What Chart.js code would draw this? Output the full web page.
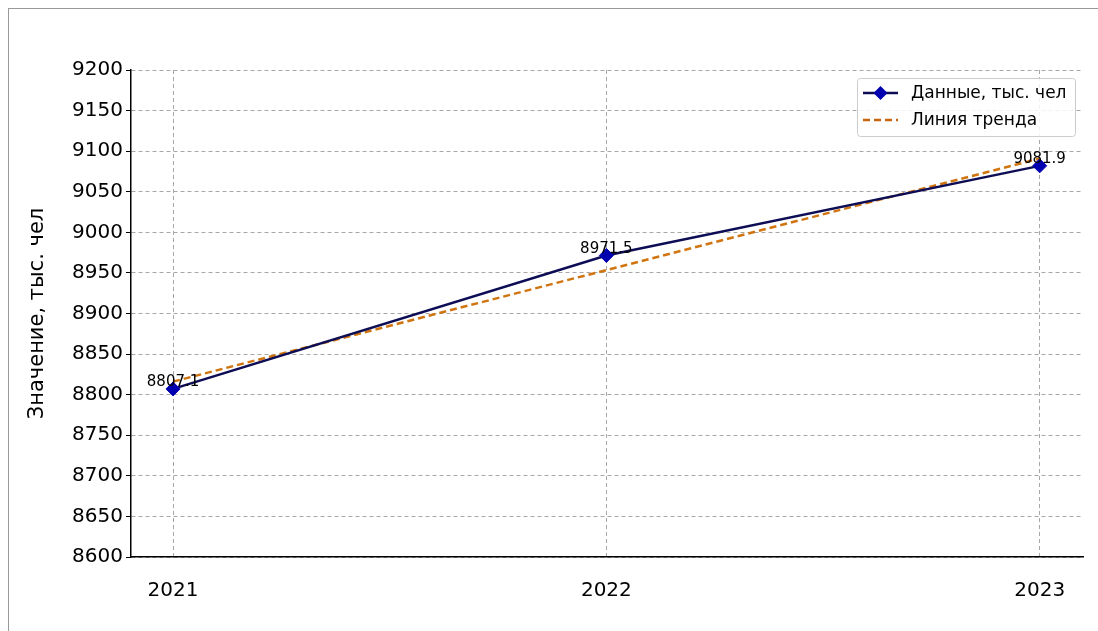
<!DOCTYPE html>
<html>
<head>
<meta charset="utf-8">
<script src="https://cdn.jsdelivr.net/npm/chart.js@4.4.0/dist/chart.umd.min.js"></script>
<style>
  body { margin: 0; background: #fff; }
  #frame { position: absolute; left: 8px; top: 8px; width: 1100px; height: 640px; border: 1px solid #999; }
  #wrap { position: absolute; left: 0; top: 0; width: 1098px; height: 631px; }
</style>
</head>
<body>
<div id="frame"></div>
<div id="wrap"><canvas id="chart"></canvas></div>
<script>
const years = [2021, 2022, 2023];
const values = [8807.1, 8971.5, 9081.9];
const trend = [8816.1, 8953.5, 9090.9];
const yTicks = [8600, 8650, 8700, 8750, 8800, 8850, 8900, 8950, 9000, 9050, 9100, 9150, 9200];

const FONT = "'DejaVu Sans', sans-serif";

const pointLabels = {
  id: 'pointLabels',
  afterDatasetsDraw(chart) {
    const ctx = chart.ctx;
    const meta = chart.getDatasetMeta(0);
    ctx.save();
    ctx.font = "15px " + FONT;
    ctx.fillStyle = '#000';
    ctx.textAlign = 'center';
    ctx.textBaseline = 'bottom';
    meta.data.forEach((pt, i) => {
      ctx.fillText(values[i].toFixed(1), pt.x, pt.y + 1);
    });
    ctx.restore();
  }
};

const legendBox = {
  id: 'legendBox',
  afterDraw(chart) {
    const ctx = chart.ctx;
    const x = 857, y = 78, w = 218, h = 58;
    ctx.save();
    ctx.fillStyle = 'rgba(255,255,255,0.85)';
    ctx.strokeStyle = '#cccccc';
    ctx.lineWidth = 1;
    ctx.beginPath();
    ctx.roundRect(x + 0.5, y + 0.5, w, h, 3);
    ctx.fill();
    ctx.stroke();
    // row 1
    ctx.strokeStyle = '#0d0d55';
    ctx.lineWidth = 2.5;
    ctx.beginPath();
    ctx.moveTo(863, 93); ctx.lineTo(898, 93); ctx.stroke();
    ctx.fillStyle = '#0000b0';
    ctx.beginPath();
    ctx.moveTo(880.5, 86); ctx.lineTo(887.5, 93); ctx.lineTo(880.5, 100); ctx.lineTo(873.5, 93); ctx.closePath();
    ctx.fill();
    // row 2
    ctx.strokeStyle = '#c8650e';
    ctx.setLineDash([7, 4]);
    ctx.beginPath();
    ctx.moveTo(863, 120); ctx.lineTo(898, 120); ctx.stroke();
    ctx.setLineDash([]);
    ctx.fillStyle = '#000';
    ctx.font = "17px " + FONT;
    ctx.textBaseline = 'middle';
    ctx.fillText('Данные, тыс. чел', 911, 94);
    ctx.fillText('Линия тренда', 911, 121);
    ctx.restore();
  }
};

new Chart(document.getElementById('chart'), {
  type: 'line',
  data: {
    datasets: [{
      label: 'Данные, тыс. чел',
      data: years.map((yr, i) => ({ x: yr, y: values[i] })),
      borderColor: '#0d0d55',
      borderWidth: 2.5,
      pointStyle: 'rectRot',
      pointRadius: 7,
      pointBackgroundColor: '#0000b0',
      pointBorderColor: '#0000b0',
      pointBorderWidth: 1,
      tension: 0,
      order: 1
    }, {
      label: 'Линия тренда',
      data: years.map((yr, i) => ({ x: yr, y: trend[i] })),
      borderColor: '#d0740f',
      borderWidth: 2.5,
      borderDash: [7, 4],
      pointRadius: 0,
      tension: 0,
      order: 2
    }]
  },
  options: {
    responsive: true,
    maintainAspectRatio: false,
    animation: false,
    layout: { padding: { left: 0, right: 15, top: 70, bottom: 0 } },
    plugins: {
      legend: { display: false },
      tooltip: { enabled: false }
    },
    scales: {
      x: {
        type: 'linear',
        min: 2020.903,
        max: 2023.1,
        afterBuildTicks: s => { s.ticks = years.map(v => ({ value: v })); },
        afterFit: s => { s.height = 74; },
        ticks: {
          color: '#000',
          font: { family: FONT, size: 20 },
          padding: 22,
          callback: v => String(v)
        },
        grid: {
          color: '#a8a8a8',
          lineWidth: 1,
          drawTicks: false
        },
        border: { display: true, color: '#000', width: 1.5, dash: [4, 3] }
      },
      y: {
        min: 8600,
        max: 9200,
        afterBuildTicks: s => { s.ticks = yTicks.map(v => ({ value: v })); },
        afterFit: s => { s.width = 131; },
        ticks: {
          color: '#000',
          font: { family: FONT, size: 20 },
          padding: 3,
          callback: v => String(v)
        },
        title: {
          display: true,
          text: 'Значение, тыс. чел',
          color: '#000',
          font: { family: FONT, size: 21 },
          padding: { top: 25, bottom: 0 }
        },
        grid: {
          color: '#a8a8a8',
          lineWidth: 1,
          tickLength: 5,
          tickColor: '#000'
        },
        border: { display: true, color: '#000', width: 1.5, dash: [4, 3] }
      }
    }
  },
  plugins: [pointLabels, legendBox]
});
</script>
</body>
</html>
